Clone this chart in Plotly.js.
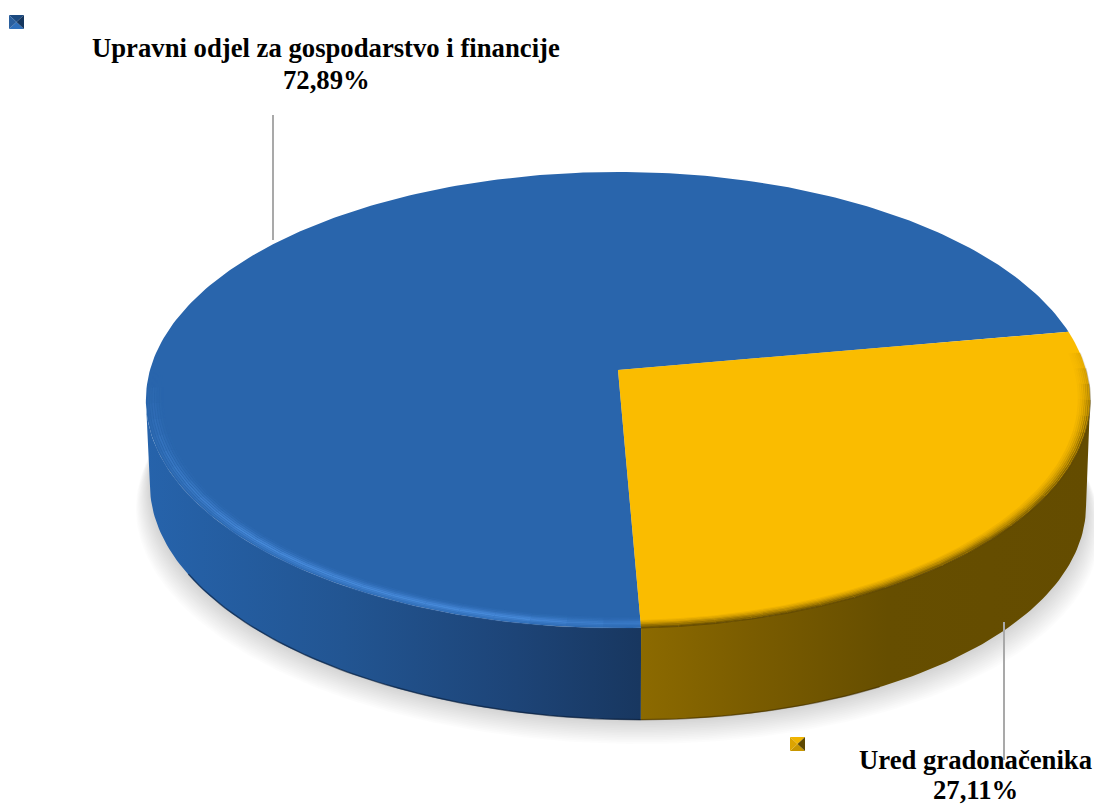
<!DOCTYPE html>
<html><head><meta charset="utf-8">
<script src="https://cdn.plot.ly/plotly-3.0.1.min.js"></script>
<style>html,body{margin:0;padding:0;background:#fff}#c{width:1094px;height:805px}</style></head>
<body><div id="c"></div>
<script>
// ---- data ----
const categories = ["Upravni odjel za gospodarstvo i financije", "Ured gradonačenika"];
const shares = [72.89, 27.11];
const shareLabels = ["72,89%", "27,11%"];
const faceColors = ["#2965ac", "#fabc00"];
const wallStops = [
  [[0, "#2663ab"], [0.4, "#225592"], [0.75, "#1d4477"], [1, "#183760"]],
  [[0, "#8c6a00"], [0.25, "#7a5c00"], [0.55, "#664e00"], [1, "#644c00"]]
];

// ---- projection of the disc (layout only) ----
const top_ = {a: 370, b: -175.4, k: 468, cx: 618, s: 0};
const bot_ = {a: 465.4, b: -159.6, k: 464, cx: 618, s: 0.022};
const c = 0.1316;
function proj(p, deg, r) {
  const t = deg * Math.PI / 180, u = r * Math.cos(t), v = r * Math.sin(t), d = 1 + c * v;
  const dx = p.k * u / d;
  return [p.cx + dx, (p.a + p.b * v) / d + p.s * dx];
}
function arc(p, d0, d1, r) {
  const n = Math.max(2, Math.ceil(Math.abs(d1 - d0)));
  const xs = [], ys = [];
  for (let i = 0; i <= n; i++) { const q = proj(p, d0 + (d1 - d0) * i / n, r); xs.push(q[0]); ys.push(q[1]); }
  return [xs, ys];
}
// slices run clockwise; the second slice begins at yStart
const total = shares[0] + shares[1];
const yStart = 10.05;
const yEnd = yStart - 360 * shares[1] / total;
const bEnd = yEnd - 360 * shares[0] / total;
const leftEdge = -172.4, rightEdge = -7.6;   // where the disc outline is widest

const traces = [];
const poly = (x, y, fill, extra) => traces.push(Object.assign({x, y, mode: "lines", fill: "toself", fillcolor: fill, line: {width: 0}, hoverinfo: "skip", showlegend: false}, extra || {}));
const stroke = (x, y, color, width) => traces.push({x, y, mode: "lines", line: {color, width}, hoverinfo: "skip", showlegend: false});

// soft shadow under the disc
for (let i = 0; i < 14; i++) {
  const s = {a: bot_.a, b: bot_.b, k: bot_.k + 1 + i * 1.0, cx: 618, s: bot_.s};
  const [x, y] = arc(s, 0, 360, 1);
  poly(x, y.map(v => v + 2 + i * 1.7), "rgba(0,0,0,0.0125)");
}
// walls
function wall(d0, d1, stops, x0, x1) {
  const A = arc(top_, d0, d1, 1), B = arc(bot_, d1, d0, 1);
  poly(A[0].concat(B[0]), A[1].concat(B[1]), stops[0][1], {fillgradient: {type: "horizontal", start: x0, stop: x1, colorscale: stops}});
}
wall(yEnd, leftEdge, wallStops[0], 146, 640);
wall(yEnd, rightEdge, wallStops[1], 640, 1090);
// thin dark line along the wall's foot
{
  const A = arc(bot_, yEnd, -150, 0.999); stroke(A[0], A[1], "rgba(8,24,48,0.55)", 1.5);
  const B = arc(bot_, yEnd, -60, 0.999);  stroke(B[0], B[1], "rgba(50,36,0,0.45)", 1.5);
}

// top face
{
  const A = arc(top_, yEnd, bEnd, 1);
  poly([618].concat(A[0]), [370].concat(A[1]), faceColors[0]);
  const B = arc(top_, yEnd, yStart, 1);
  poly([618].concat(B[0]), [370].concat(B[1]), faceColors[1]);
}
// rim bevel on the near edge: soft, fading at both ends
const blueBevel = [[1.0, 0.2], [0.995, 0.45], [0.99, 0.7], [0.985, 1], [0.98, 0.8], [0.975, 0.5], [0.97, 0.25], [0.965, 0.1]];
const yellowBevel = [[1.0, 0.9], [0.996, 0.72], [0.992, 0.55], [0.988, 0.38], [0.984, 0.25], [0.98, 0.14], [0.976, 0.07]];
const clamp = v => Math.max(0, Math.min(1, v));
for (let d = yEnd; d > -178; d -= 4) {
  const mid = d - 2;
  const a = clamp((mid + 178) / 42) * (0.45 + 0.55 * clamp((yEnd - mid) / 14));
  blueBevel.forEach(([r, o]) => {
    const A = arc(top_, d, d - 4, r);
    stroke(A[0], A[1], "rgba(78,146,228," + (o * a * 0.8).toFixed(3) + ")", 1.6);
  });
}
for (let d = yEnd; d < 6; d += 4) {
  const a = clamp((6 - (d + 2)) / 22);
  yellowBevel.forEach(([r, o]) => {
    const A = arc(top_, d, d + 4, r);
    stroke(A[0], A[1], "rgba(96,72,0," + (o * a).toFixed(3) + ")", 1.6);
  });
}
// leader lines
const leaderX = [273, 1004];
stroke([leaderX[0], leaderX[0]], [115, 240], "#a9a9a9", 2);
stroke([leaderX[1], leaderX[1]], [622, 760], "#a9a9a9", 2);

// legend keys: little pyramids
function key(x, y, cols) {
  const h = 7.5, v = 7, l = x - h, r = x + h, t = y - v, b = y + v;
  [[[l, r, x], [t, t, y], cols[0]], [[l, r, x], [b, b, y], cols[1]], [[l, l, x], [t, b, y], cols[2]], [[r, r, x], [t, b, y], cols[3]]]
    .forEach(p => poly(p[0], p[1], p[2]));
}
key(16.5, 22, ["#1c4a80", "#2e6fbb", "#2a5f9e", "#15365e"]);
key(797.5, 744, ["#f0b400", "#c79600", "#dca400", "#5e4800"]);

const fnt = {family: '"Liberation Serif","Times New Roman",serif', size: 26.7, color: "#000"};
const annotations = [
  {x: 326, y: 48, text: "<b>" + categories[0] + "</b>"},
  {x: 326, y: 80, text: "<b>" + shareLabels[0] + "</b>"},
  {x: 975.5, y: 760, text: "<b>" + categories[1] + "</b>"},
  {x: 975.5, y: 790, text: "<b>" + shareLabels[1] + "</b>"}
].map(a => Object.assign(a, {xref: "x", yref: "y", showarrow: false, align: "center", xanchor: "center", yanchor: "middle", font: fnt}));

Plotly.newPlot("c", traces, {
  width: 1094, height: 805, margin: {l: 0, r: 0, t: 0, b: 0},
  paper_bgcolor: "#fff", plot_bgcolor: "#fff", showlegend: false, annotations,
  xaxis: {range: [0, 1094], visible: false, fixedrange: true},
  yaxis: {range: [805, 0], visible: false, fixedrange: true}
}, {displayModeBar: false, staticPlot: true});
</script></body></html>
